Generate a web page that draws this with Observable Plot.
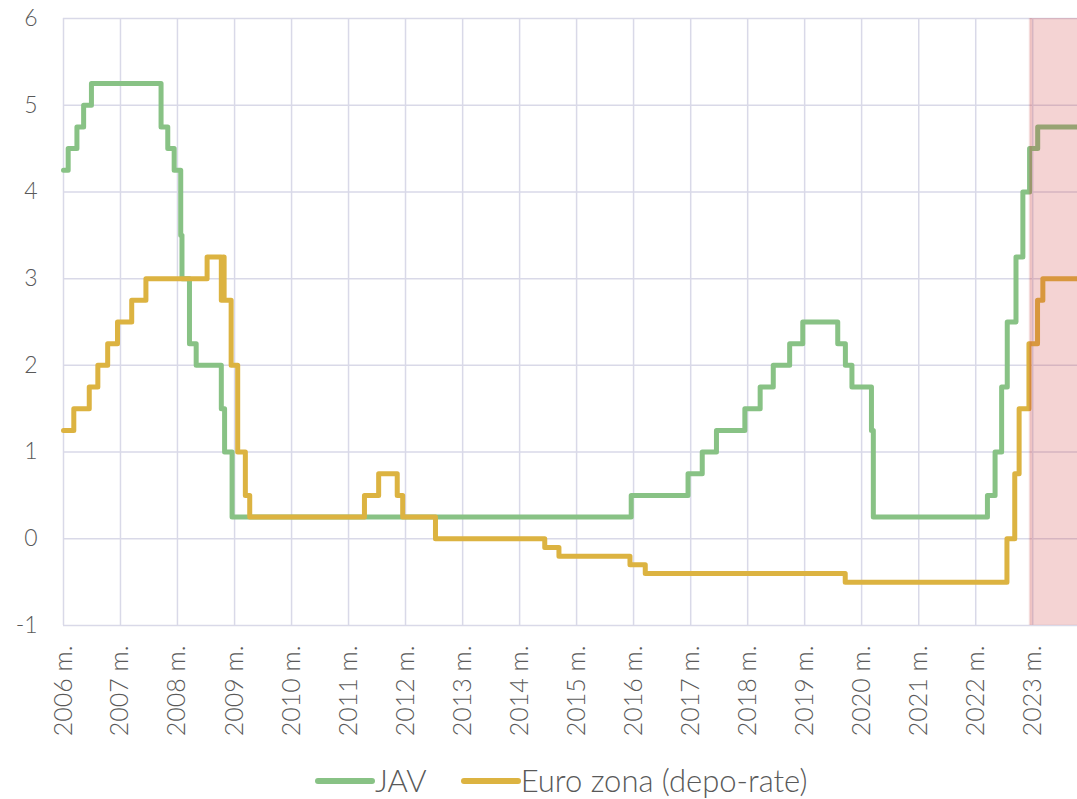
<!DOCTYPE html>
<html>
<head>
<meta charset="utf-8">
<script src="https://cdn.jsdelivr.net/npm/d3@7"></script>
<script src="https://cdn.jsdelivr.net/npm/@observablehq/plot@0.6"></script>
<style>
  html, body { margin: 0; padding: 0; background: #fff; }
  #wrap { position: relative; width: 1077px; height: 799px; overflow: hidden; font-family: Lato, "Open Sans", sans-serif; font-weight: 300; }
  #legend { position: absolute; top: 765px; left: 315px; display: flex; align-items: center; color: #595959; font-size: 31px; line-height: 31px; white-space: nowrap; }
  #legend .item { display: flex; align-items: center; }
  #legend svg { display: block; }
</style>
</head>
<body>
<div id="wrap"><div id="chart"></div><div id="legend"></div></div>
<script>
// ---- data ----
const seriesNames = ["JAV", "Euro zona (depo-rate)"];
const seriesColors = ["#88c285", "#dcb341"];

// US Fed rate (change dates and new level)
const javDates = ["2006-01-01","2006-01-31","2006-03-28","2006-05-10","2006-06-29","2007-09-18","2007-10-31","2007-12-11","2008-01-22","2008-01-30","2008-03-18","2008-04-30","2008-10-08","2008-10-29","2008-12-16","2015-12-17","2016-12-15","2017-03-16","2017-06-15","2017-12-14","2018-03-22","2018-06-14","2018-09-27","2018-12-20","2019-08-01","2019-09-19","2019-10-31","2020-03-04","2020-03-16","2022-03-17","2022-05-05","2022-06-16","2022-07-22","2022-09-16","2022-10-30","2022-12-12","2023-02-02","2023-10-15"];
const javRates = [4.25,4.5,4.75,5.0,5.25,4.75,4.5,4.25,3.5,3.0,2.25,2.0,1.5,1.0,0.25,0.5,0.75,1.0,1.25,1.5,1.75,2.0,2.25,2.5,2.25,2.0,1.75,1.25,0.25,0.5,1.0,1.75,2.5,3.25,4.0,4.5,4.75,4.75];

// ECB deposit rate
const euroDates = ["2006-01-01","2006-03-08","2006-06-15","2006-08-09","2006-10-11","2006-12-13","2007-03-14","2007-06-13","2008-07-09","2008-10-08","2008-10-20","2008-10-26","2008-11-12","2008-12-10","2009-01-21","2009-03-11","2009-04-08","2011-04-13","2011-07-13","2011-11-09","2011-12-14","2012-07-11","2014-06-11","2014-09-10","2015-12-09","2016-03-16","2019-09-18","2022-07-20","2022-09-08","2022-10-06","2022-12-08","2023-02-01","2023-03-07","2023-10-15"];
const euroRates = [1.25,1.5,1.75,2.0,2.25,2.5,2.75,3.0,3.25,2.75,3.25,2.75,2.75,2.0,1.0,0.5,0.25,0.5,0.75,0.5,0.25,0.0,-0.1,-0.2,-0.3,-0.4,-0.5,0.0,0.75,1.5,2.25,2.75,3.0,3.0];

const yearTicks = [2006,2007,2008,2009,2010,2011,2012,2013,2014,2015,2016,2017,2018,2019,2020,2021,2022,2023];
const yTicks = [-1,0,1,2,3,4,5,6];
const xStart = "2006-01-01";
const xEnd = "2023-10-15";
const forecastStart = "2022-12-16";

// ---- build tables ----
const parse = s => new Date(s + "T00:00:00Z");
const jav = javDates.map((d, i) => ({date: parse(d), value: javRates[i]}));
const euro = euroDates.map((d, i) => ({date: parse(d), value: euroRates[i]}));
const yearDates = yearTicks.map(y => new Date(Date.UTC(y, 0, 1)));

const gridColor = "#d9d9e8";
const textColor = "#595959";

const chart = Plot.plot({
  width: 1077,
  height: 755,
  marginLeft: 63,
  marginRight: 0,
  marginTop: 18,
  marginBottom: 130,
  style: {fontFamily: "Lato, 'Open Sans', sans-serif", fontWeight: 300, color: textColor, background: "transparent"},
  x: {type: "utc", domain: [parse(xStart), parse(xEnd)]},
  y: {domain: [-1, 6]},
  marks: [
    Plot.ruleY(yTicks, {stroke: gridColor, strokeWidth: 1.5}),
    Plot.ruleX(yearDates, {stroke: gridColor, strokeWidth: 1.5}),
    Plot.line(jav, {x: "date", y: "value", curve: "step-after", stroke: seriesColors[0], strokeWidth: 5, strokeLinejoin: "round", strokeLinecap: "round"}),
    Plot.line(euro, {x: "date", y: "value", curve: "step-after", stroke: seriesColors[1], strokeWidth: 5, strokeLinejoin: "round", strokeLinecap: "round"}),
    Plot.rect([0], {x1: () => parse(forecastStart), x2: () => parse(xEnd), y1: -1, y2: 6, fill: "rgb(205,55,55)", fillOpacity: 0.22}),
    Plot.ruleX([parse(forecastStart)], {y1: -1, y2: 6, stroke: "rgb(190,60,60)", strokeOpacity: 0.12, strokeWidth: 3}),
    Plot.axisY({ticks: yTicks, tickSize: 0, tickPadding: 26, fontSize: 23, tickFormat: d => String(d), label: null, fill: textColor}),
    Plot.axisX({ticks: yearDates, tickSize: 0, tickPadding: 20, tickRotate: -90, fontSize: 25, tickFormat: d => `${d.getUTCFullYear()} m.`, label: null, fill: textColor})
  ]
});
document.getElementById("chart").appendChild(chart);

// ---- legend ----
const legend = document.getElementById("legend");
seriesNames.forEach((name, i) => {
  const item = document.createElement("div");
  item.className = "item";
  item.style.marginRight = i === 0 ? "34px" : "0";
  item.innerHTML = `<svg width="60" height="10"><line x1="3" y1="5" x2="57" y2="5" stroke="${seriesColors[i]}" stroke-width="6" stroke-linecap="round"/></svg><span>${name}</span>`;
  legend.appendChild(item);
});
</script>
</body>
</html>
